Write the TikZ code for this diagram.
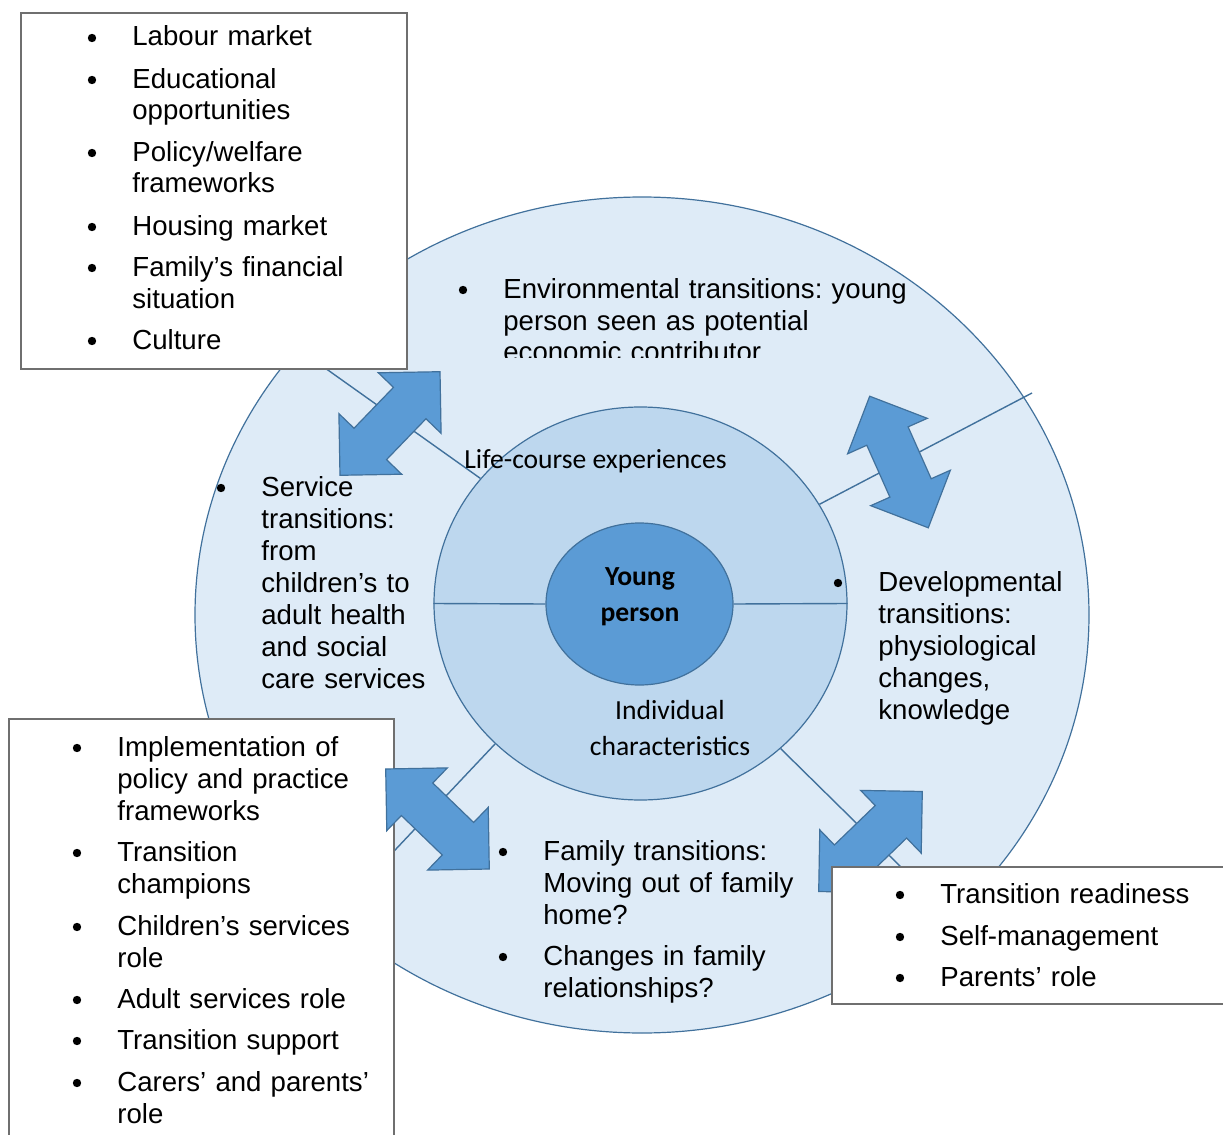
\documentclass[tikz,border=0pt]{standalone}
\usepackage{fontspec}
\setmainfont{Liberation Sans}
\newfontfamily\calfont{Carlito}
\usetikzlibrary{shapes.geometric,shapes.arrows}
\frenchspacing

\definecolor{ringouter}{HTML}{DEEBF7}
\definecolor{ringmid}{HTML}{BDD7EE}
\definecolor{ringcore}{HTML}{5B9BD5}
\definecolor{ringline}{HTML}{41719C}
\definecolor{boxline}{HTML}{6F6F6F}

\tikzset{
  ring/.style={ellipse, draw=ringline, line width=0.6pt, inner sep=0pt},
  spoke/.style={draw=ringline, line width=0.7pt},
  swap/.style={double arrow, draw=ringline, fill=ringcore, line width=0.6pt,
    minimum height=72pt, minimum width=0pt, inner xsep=0pt, inner ysep=11pt,
    double arrow head extend=10.5pt, double arrow tip angle=90},
  listbox/.style={draw=boxline, fill=white, line width=1.2pt, inner sep=0pt},
  itm/.style={anchor=base west, align=left, text width=250pt, inner sep=0pt,
    font=\fontsize{13.8}{16}\selectfont},
  bul/.style={circle, fill=black, inner sep=0pt, minimum size=4.2pt},
  cal/.style={inner sep=0pt, font=\calfont\fontsize{13.8}{18}\selectfont},
  calb/.style={inner sep=0pt, font=\calfont\bfseries\fontsize{13.8}{18}\selectfont},
}

% bullet and its text: name, x, baseline y, text
\newcommand{\bitem}[4]{%
  \node[bul] (#1-dot) at (#2-40,#3-8) {};
  \node[itm] (#1) at (#2,#3) {#4};}

\begin{document}
\begin{tikzpicture}[x=0.5pt,y=-0.5pt]
\useasboundingbox (0,0) rectangle (1223,1135);

% rings
\node[ring, fill=ringouter, minimum width=447pt, minimum height=418pt] (env) at (642,615) {};
\node[ring, fill=ringmid, minimum width=206.5pt, minimum height=196.5pt] (life) at (640.5,603.5) {};
\node[ring, fill=ringcore, minimum width=93.5pt, minimum height=81pt] (core) at (639.5,604) {};

% spokes
\coordinate (nwEnd) at (318,363);
\coordinate (neEnd) at (1032,393);
\coordinate (swEnd) at (380,866);
\coordinate (seEnd) at (905,871);
\draw[spoke] (life.142.5) -- (nwEnd);
\draw[spoke] (life.29.4) -- (neEnd);
\draw[spoke] (life.224.2) -- (swEnd);
\draw[spoke] (life.314.6) -- (seEnd);
\draw[spoke] (life.west) -- (core.west);
\draw[spoke] (core.east) -- (life.east);

% ring labels
\node[cal, anchor=base west] (lifeLbl) at (464,468) {Life-course experiences};
\node[cal, anchor=base, align=center, text width=150pt] (indLbl) at (670,719) {Individual\\characteristics};
\node[calb, anchor=base, align=center, text width=100pt] (ypLbl) at (640,585) {Young\\person};

% context box
\node[listbox, anchor=north west, minimum width=193pt, minimum height=178pt] (ctxBox) at (20,12) {};
\bitem{lab}{132}{46}{Labour market}
\bitem{edu}{132}{88}{Educational\\opportunities}
\bitem{pol}{132}{161}{Policy/welfare\\frameworks}
\bitem{hou}{132}{235}{Housing market}
\bitem{fin}{132}{276}{Family’s financial\\situation}
\bitem{cul}{132}{349}{Culture}

% services box
\node[listbox, anchor=north west, minimum width=192.5pt, minimum height=216pt] (svcBox) at (8,718) {};
\bitem{imp}{117}{756}{Implementation of\\policy and practice\\frameworks}
\bitem{chp}{117}{861}{Transition\\champions}
\bitem{chs}{117}{935}{Children’s services\\role}
\bitem{ads}{117}{1008}{Adult services role}
\bitem{sup}{117}{1049}{Transition support}
\bitem{car}{117}{1091}{Carers’ and parents’\\role}

% transitions
\begin{scope}
  \clip (440,262) rectangle (930,357);
  \bitem{envt}{503}{298}{Environmental transitions: young\\person seen as potential\\economic contributor}
\end{scope}
\bitem{svc}{261}{496}{Service\\transitions:\\from\\children’s to\\adult health\\and social\\care services}
\bitem{dev}{878}{591}{Developmental\\transitions:\\physiological\\changes,\\knowledge}
\bitem{fam}{543}{860}{Family transitions:\\Moving out of family\\home?}
\bitem{rel}{543}{965}{Changes in family\\relationships?}

% exchange arrows
\node[swap, rotate=46] (nwArr) at (390,423.5) {};
\node[swap, rotate=-66] (neArr) at (899,462) {};
\node[swap, rotate=-44] (swArr) at (437.5,819) {};
\node[swap, rotate=44] (seArr) at (870.5,841.5) {};

% readiness box
\node[listbox, anchor=north west, minimum width=204.5pt, minimum height=68.5pt] (rdyBox) at (831,866) {};
\bitem{rdy}{940}{903}{Transition readiness}
\bitem{slf}{940}{945}{Self-management}
\bitem{par}{940}{986}{Parents’ role}
\end{tikzpicture}
\end{document}
